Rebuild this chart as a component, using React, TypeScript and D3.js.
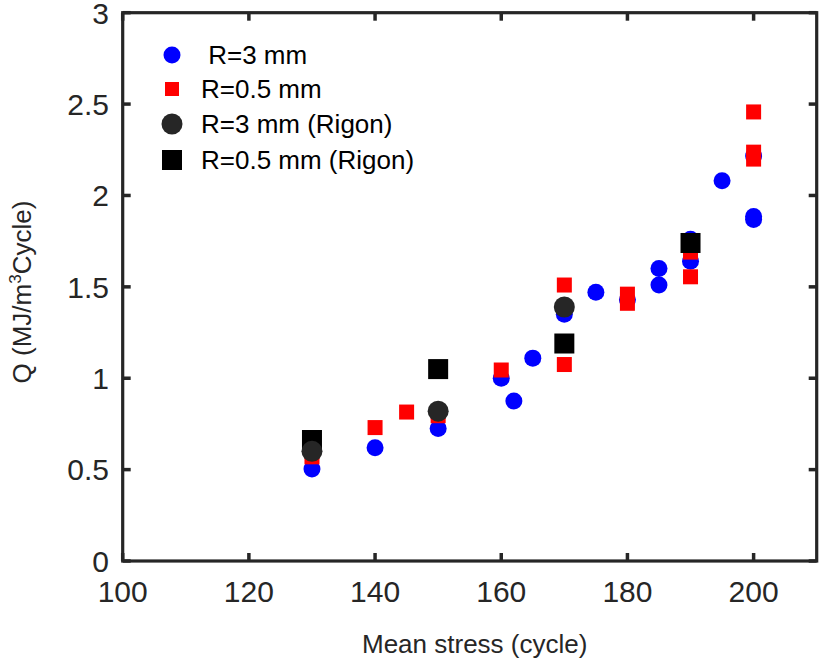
import React from "react";
import * as d3 from "d3";

const xTicks = [100, 120, 140, 160, 180, 200];
const yTicks = [0, 0.5, 1, 1.5, 2, 2.5, 3];
const yTickLabels = ["0", "0.5", "1", "1.5", "2", "2.5", "3"];

const r3x = [130, 140, 150, 160, 162, 165, 170, 175, 180, 185, 185, 190, 190, 195, 200, 200, 200];
const r3y = [0.503, 0.62, 0.725, 1.0, 0.875, 1.11, 1.35, 1.47, 1.43, 1.6, 1.51, 1.64, 1.76, 2.08, 1.885, 1.868, 2.216];

const r05x = [130, 140, 145, 150, 160, 170, 170, 180, 180, 190, 190, 200, 200, 200];
const r05y = [0.57, 0.73, 0.815, 0.795, 1.045, 1.51, 1.075, 1.46, 1.41, 1.555, 1.69, 2.457, 2.237, 2.199];

const rig3x = [130, 150, 170];
const rig3y = [0.6, 0.82, 1.39];

const rig05x = [130, 150, 170, 190];
const rig05y = [0.662, 1.05, 1.19, 1.74];

const legendLabels = [" R=3 mm", "R=0.5 mm", "R=3 mm (Rigon)", "R=0.5 mm (Rigon)"];

const FONT = "'Liberation Sans', Arial, Helvetica, sans-serif";
const AX = "#262626";

export default function App() {
  const W = 820, H = 661;
  const left = 122.7, right = 816.7, top = 12.7, bottom = 561;
  const x = d3.scaleLinear().domain([100, 210]).range([left, right]);
  const y = d3.scaleLinear().domain([0, 3]).range([bottom, top]);
  const tickLen = 8;

  const circle = (cx: number, cy: number, r: number, fill: string, k: string) => (
    <circle key={k} cx={cx} cy={cy} r={r} fill={fill} />
  );
  const square = (cx: number, cy: number, s: number, fill: string, k: string) => (
    <rect key={k} x={cx - s / 2} y={cy - s / 2} width={s} height={s} fill={fill} />
  );

  const legX = 172;
  const legY = [55, 89, 124, 160];

  return (
    <svg width={W} height={H} style={{ position: "absolute", left: 0, top: 0, background: "#fff" }} fontFamily={FONT}>
      {/* data */}
      {r3x.map((v, i) => circle(x(v), y(r3y[i]), 8.5, "#0000ff", "b" + i))}
      {r05x.map((v, i) => square(x(v), y(r05y[i]), 15, "#ff0000", "r" + i))}
      {rig05x.map((v, i) => square(x(v), y(rig05y[i]), 20, "#000000", "ks" + i))}
      {rig3x.map((v, i) => circle(x(v), y(rig3y[i]), 10.5, "#262626", "kc" + i))}

      {/* ticks */}
      {xTicks.map((t) => (
        <g key={"xt" + t}>
          <line x1={x(t)} x2={x(t)} y1={bottom} y2={bottom - tickLen} stroke={AX} strokeWidth={3.5} />
          <line x1={x(t)} x2={x(t)} y1={top} y2={top + tickLen} stroke={AX} strokeWidth={3.5} />
          <text x={x(t)} y={602} textAnchor="middle" fontSize={30} fill={AX}>{t}</text>
        </g>
      ))}
      {yTicks.map((t, i) => (
        <g key={"yt" + t}>
          <line x1={left} x2={left + tickLen} y1={y(t)} y2={y(t)} stroke={AX} strokeWidth={3.5} />
          <line x1={right} x2={right - tickLen} y1={y(t)} y2={y(t)} stroke={AX} strokeWidth={3.5} />
          <text x={109} y={y(t)} dy="0.36em" textAnchor="end" fontSize={30} fill={AX}>{yTickLabels[i]}</text>
        </g>
      ))}

      {/* frame */}
      <rect x={left} y={top} width={right - left} height={bottom - top} fill="none" stroke={AX} strokeWidth={3.2} />

      {/* legend */}
      {circle(legX, legY[0], 8.5, "#0000ff", "l0")}
      {square(legX, legY[1], 14, "#ff0000", "l1")}
      {circle(legX, legY[2], 10.5, "#262626", "l2")}
      {square(legX, legY[3], 20, "#000000", "l3")}
      {legendLabels.map((s, i) => (
        <text key={"lt" + i} x={201} y={legY[i] + 9} fontSize={26} fill="#000" style={{ whiteSpace: "pre" }}>{s}</text>
      ))}

      {/* axis labels */}
      <text x={(left + right) / 2 + 5} y={653} textAnchor="middle" fontSize={26} fill={AX}>Mean stress (cycle)</text>
      <text transform={`translate(31, 292) rotate(-90)`} textAnchor="middle" fontSize={26} fill={AX}>
        Q (MJ/m<tspan fontSize={17} dy={-10}>3</tspan><tspan dy={10}>Cycle)</tspan>
      </text>
    </svg>
  );
}
